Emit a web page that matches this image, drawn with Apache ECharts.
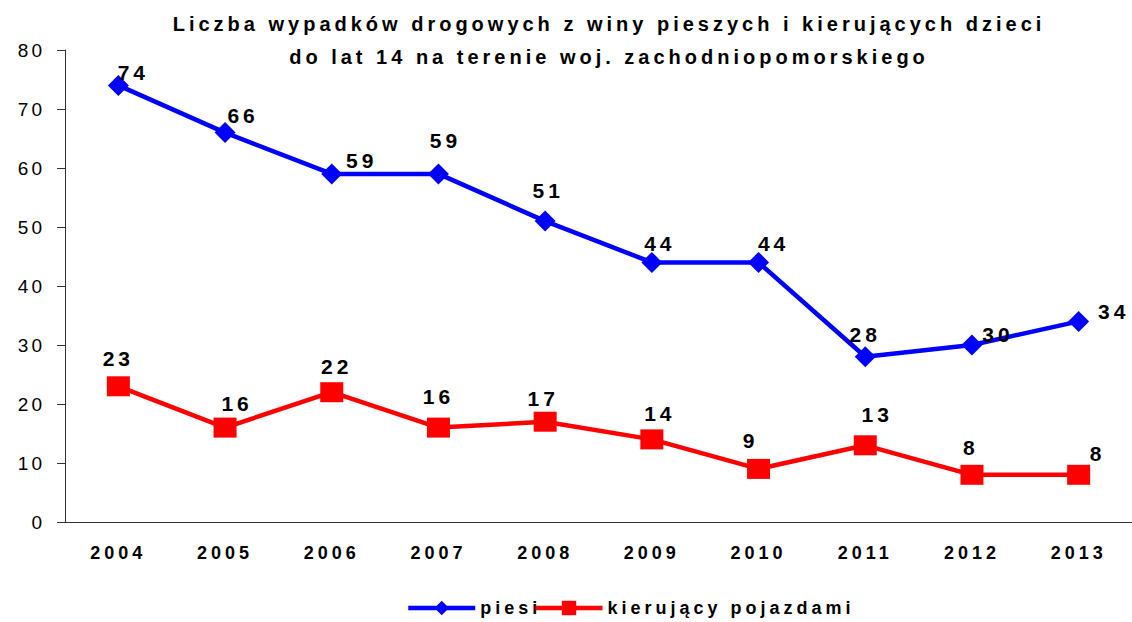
<!DOCTYPE html>
<html>
<head>
<meta charset="utf-8">
<script src="https://cdn.jsdelivr.net/npm/echarts@6/dist/echarts.min.js"></script>
<style>
	html, body { margin: 0; padding: 0; background: #fff; }
	#chart { width: 1132px; height: 622px; }
	/* odstępy między literami jak w oryginale */
	#chart text[style*="20px"] { letter-spacing: 4px; }
	#chart text[style*="21px"] { letter-spacing: 4px; }
	#chart text[style*="19px"] { letter-spacing: 3px; }
	#chart text[style*="18px"] { letter-spacing: 4px; }
</style>
</head>
<body>
<div id="chart"></div>
<script>
	// dane z wykresu
	var lata = ['2004', '2005', '2006', '2007', '2008', '2009', '2010', '2011', '2012', '2013'];
	var piesi = [74, 66, 59, 59, 51, 44, 44, 28, 30, 34];
	var kierujacy = [23, 16, 22, 16, 17, 14, 9, 13, 8, 8];
	var osY = [0, 10, 20, 30, 40, 50, 60, 70, 80];

	// przesunięcia etykiet wartości względem punktu
	var przesPiesi = [[15, -13], [18, -17], [30, -13], [7, -33], [3, -31], [8, -19], [15, -19], [0, -22], [26, -11], [35, -10]];
	var przesKier = [[0, -28], [12, -24], [5, -26], [0, -31], [-2, -23], [8, -26], [-8, -28], [12, -31], [-1, -27], [19, -21]];

	function zrob(dane, przes) {
		var wynik = [];
		for (var i = 0; i < dane.length; i++) {
			wynik.push({ value: dane[i], label: { offset: przes[i] } });
		}
		return wynik;
	}

	var font = 'Liberation Sans, Arial, sans-serif';
	var myChart = echarts.init(document.getElementById('chart'), null, { renderer: 'svg' });

	var option = {
		animation: false,
		title: {
			text: 'Liczba wypadków drogowych z winy pieszych i kierujących dzieci\ndo lat 14 na terenie woj. zachodniopomorskiego',
			left: 604,
			top: 2,
			textAlign: 'center',
			textStyle: {
				fontFamily: font,
				fontSize: 20,
				fontWeight: 'bold',
				color: '#000',
				lineHeight: 33
			}
		},
		legend: {
			bottom: 0,
			left: 401,
			itemWidth: 67,
			itemHeight: 18,
			itemGap: 12,
			lineStyle: { width: 4.5 },
			textStyle: {
				fontFamily: font,
				fontSize: 18,
				fontWeight: 'bold',
				color: '#000'
			},
			data: ['piesi', 'kierujący pojazdami']
		},
		grid: {
			left: 65,
			right: 0,
			top: 50,
			bottom: 100,
			containLabel: false
		},
		xAxis: {
			type: 'category',
			data: lata,
			boundaryGap: true,
			axisLine: { lineStyle: { color: '#333', width: 1 } },
			axisTick: { length: 6, lineStyle: { color: '#333' } },
			axisLabel: {
				margin: 22,
				fontFamily: font,
				fontSize: 18,
				fontWeight: 'bold',
				color: '#000'
			}
		},
		yAxis: {
			type: 'value',
			min: osY[0],
			max: osY[osY.length - 1],
			interval: 10,
			splitLine: { show: false },
			axisLine: { show: true, lineStyle: { color: '#333', width: 1 } },
			axisTick: { show: true, length: 8, lineStyle: { color: '#333' } },
			axisLabel: {
				margin: 20,
				fontFamily: font,
				fontSize: 19,
				color: '#000'
			}
		},
		series: [{
			name: 'piesi',
			type: 'line',
			data: zrob(piesi, przesPiesi),
			symbol: 'diamond',
			symbolSize: [21, 21],
			color: '#0000ff',
			lineStyle: { width: 4.5, color: '#0000ff' },
			itemStyle: { color: '#0000ff' },
			label: {
				show: true,
				position: 'inside',
				fontFamily: font,
				fontSize: 21,
				fontWeight: 'bold',
				color: '#000'
			}
		}, {
			name: 'kierujący pojazdami',
			type: 'line',
			data: zrob(kierujacy, przesKier),
			symbol: 'rect',
			symbolSize: [23, 20],
			color: '#ff0000',
			lineStyle: { width: 4.5, color: '#ff0000' },
			itemStyle: { color: '#ff0000' },
			label: {
				show: true,
				position: 'inside',
				fontFamily: font,
				fontSize: 21,
				fontWeight: 'bold',
				color: '#000'
			}
		}]
	};

	myChart.setOption(option);
</script>
</body>
</html>
